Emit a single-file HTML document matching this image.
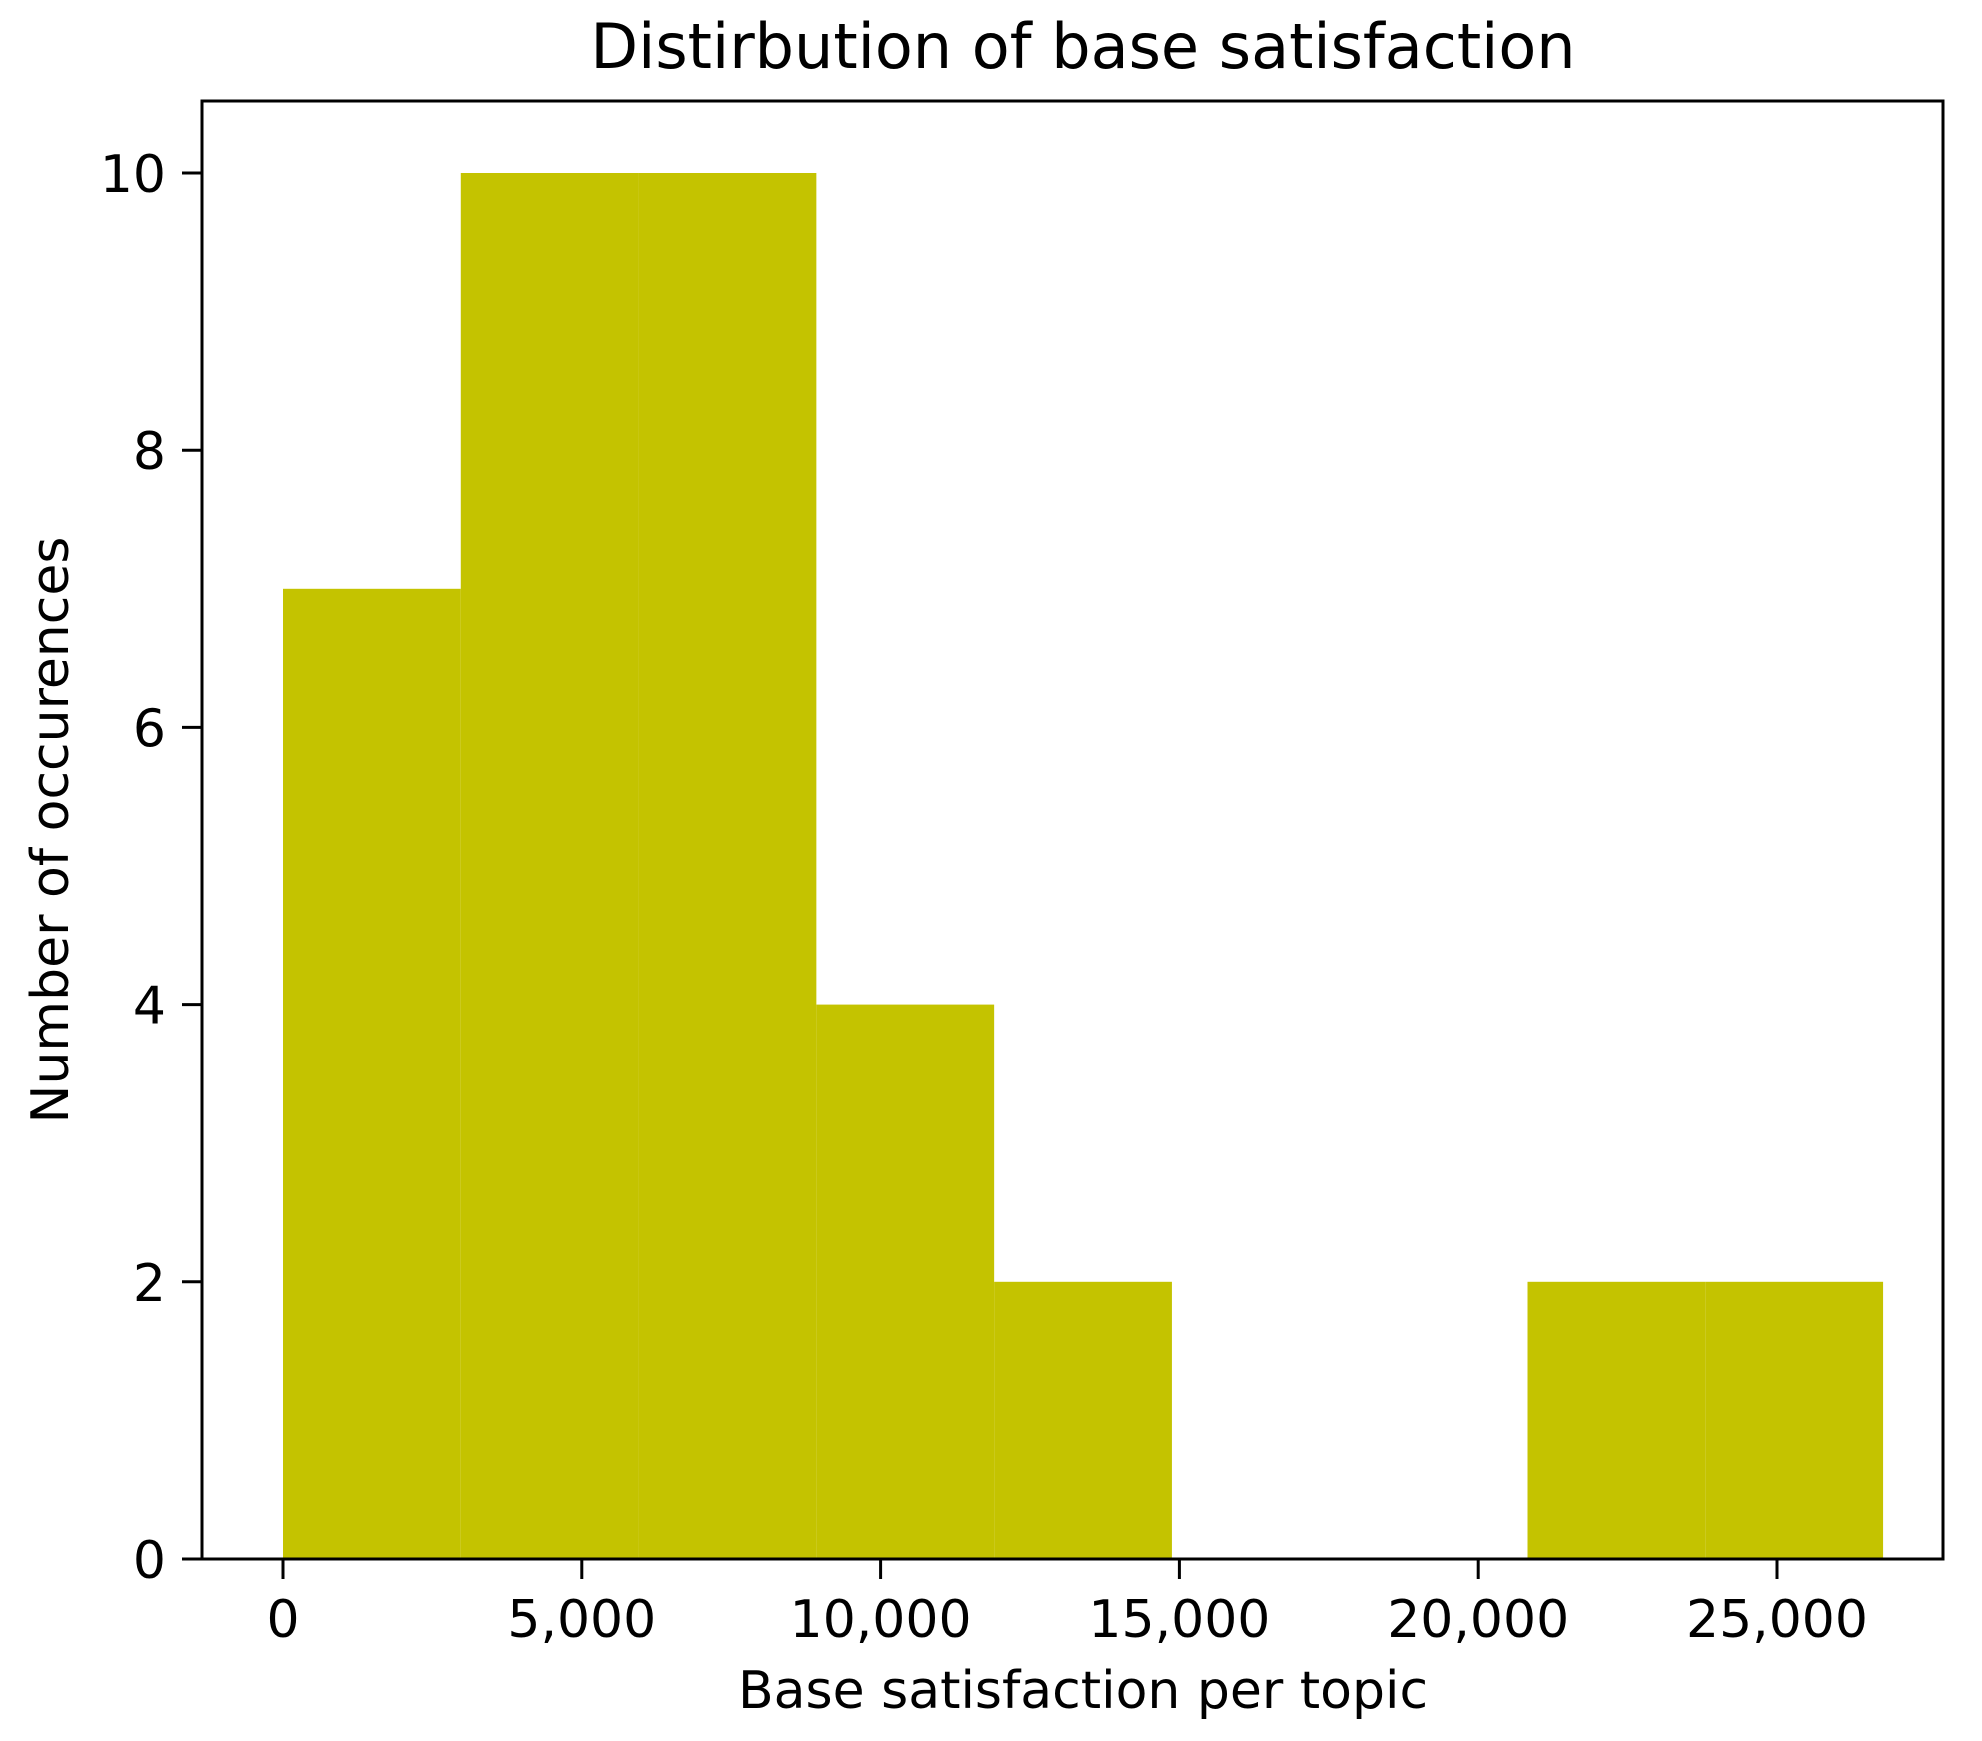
<!DOCTYPE html>
<html><head><meta charset="utf-8"><style>
html,body{margin:0;padding:0;background:#fff;}
svg{display:block;font-family:"DejaVu Sans","Liberation Sans",sans-serif;}
</style></head><body>
<svg id="chart" width="1982" height="1741">
<text x="1083" y="68" font-size="62" text-anchor="middle">Distirbution of base satisfaction</text>
<g id="bars"></g>
<g id="xticks"></g>
<g id="yticks"></g>
<rect x="202" y="101" width="1741" height="1458" fill="none" stroke="#000" stroke-width="3"/>
<text x="1083" y="1708" font-size="52" text-anchor="middle">Base satisfaction per topic</text>
<text transform="translate(68,830) rotate(-90)" font-size="52" text-anchor="middle">Number of occurences</text>
</svg>
<script>
const binEdges = [0,2975,5950,8925,11900,14875,17850,20825,23800,26775];
const counts = [7,10,10,4,2,0,0,2,2];
const xTickValues = [0,5000,10000,15000,20000,25000];
const xTickLabels = ["0","5,000","10,000","15,000","20,000","25,000"];
const yTickValues = [0,2,4,6,8,10];
const yTickLabels = ["0","2","4","6","8","10"];
const NS="http://www.w3.org/2000/svg";
const x = v => 283 + (v/25000)*(1777-283);
const y = v => 1559 - (v/10)*(1559-173);
const bars=document.getElementById('bars');
counts.forEach((c,i)=>{
  if(c<=0) return;
  const r=document.createElementNS(NS,'rect');
  r.setAttribute('x',x(binEdges[i]));
  r.setAttribute('width',x(binEdges[i+1])-x(binEdges[i]));
  r.setAttribute('y',y(c));
  r.setAttribute('height',y(0)-y(c));
  r.setAttribute('fill','#c4c300');
  
  
  bars.appendChild(r);
});
const xt=document.getElementById('xticks');
xTickValues.forEach((v,i)=>{
  const l=document.createElementNS(NS,'line');
  l.setAttribute('x1',x(v));l.setAttribute('x2',x(v));
  l.setAttribute('y1',1559);l.setAttribute('y2',1579);
  l.setAttribute('stroke','#000');l.setAttribute('stroke-width','3');
  
  
  xt.appendChild(l);
  const t=document.createElementNS(NS,'text');
  t.setAttribute('x',x(v));t.setAttribute('y',1637);
  t.setAttribute('font-size','52');t.setAttribute('text-anchor','middle');
  t.textContent=xTickLabels[i];
  
  
  xt.appendChild(t);
});
const yt=document.getElementById('yticks');
yTickValues.forEach((v,i)=>{
  const l=document.createElementNS(NS,'line');
  l.setAttribute('x1',182);l.setAttribute('x2',202);
  l.setAttribute('y1',y(v));l.setAttribute('y2',y(v));
  l.setAttribute('stroke','#000');l.setAttribute('stroke-width','3');
  
  
  yt.appendChild(l);
  const t=document.createElementNS(NS,'text');
  t.setAttribute('x',166);t.setAttribute('y',y(v)+19);
  t.setAttribute('font-size','52');t.setAttribute('text-anchor','end');
  t.textContent=yTickLabels[i];
  
  
  yt.appendChild(t);
});
</script>
</body></html>
